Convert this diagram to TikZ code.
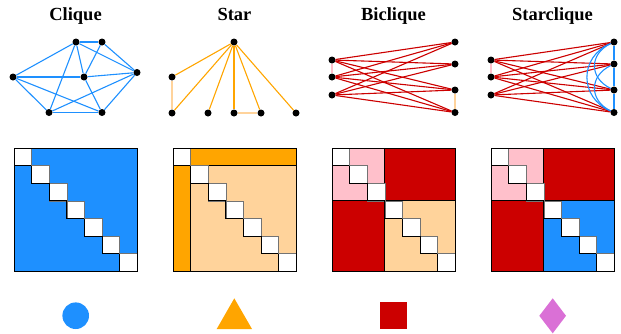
\documentclass[tikz,border=0pt]{standalone}
\usepackage{fontspec}
\setmainfont{Liberation Serif}

\definecolor{cliqueblue}{RGB}{30,144,255}
\definecolor{starorange}{RGB}{255,165,0}
\definecolor{lightorange}{RGB}{255,211,155}
\definecolor{lightpink}{RGB}{255,192,203}
\definecolor{bicliquered}{RGB}{204,0,0}
\definecolor{orchid}{RGB}{218,112,214}

\begin{document}
\begin{tikzpicture}[x=1pt,y=-1pt,
    dot/.style={circle,fill=black,inner sep=0pt,minimum size=7pt},
    title/.style={anchor=base,font=\fontsize{18.5}{20}\selectfont\bfseries},
    edge/.style={line width=1.1pt},
    diag/.style={fill=white,draw=black!55,line width=0.8pt},
    frame/.style={draw=black,line width=0.9pt}]
    \useasboundingbox (0,0) rectangle (621,333);
    %\draw[very thin,color=gray] (0,0) grid[step=20] (621,333);
    \pgfmathsetmacro{\bs}{123.5/7}

    % titles
    \node[title] (tclique) at (75.5,20) {Clique};
    \node[title] (tstar) at (234.5,20) {Star};
    \node[title] (tbiclique) at (393.5,20) {Biclique};
    \node[title] (tstarclique) at (552.5,20) {Starclique};

    % clique
    \node[dot] (c1) at (76,42) {};
    \node[dot] (c2) at (102,42) {};
    \node[dot] (c3) at (13,77) {};
    \node[dot] (c4) at (84,77) {};
    \node[dot] (c5) at (137,72.5) {};
    \node[dot] (c6) at (49,112.5) {};
    \node[dot] (c7) at (102,112.5) {};
    \foreach \a/\b in {c1/c2,c1/c3,c1/c4,c1/c5,c1/c6,c2/c4,c2/c5,c3/c4,
        c3/c6,c3/c7,c4/c5,c4/c7,c5/c6,c5/c7,c6/c7}
        \draw[edge,cliqueblue] (\a) -- (\b);

    % star
    \node[dot] (s0) at (234,42) {};
    \node[dot] (s1) at (172,77) {};
    \node[dot] (s2) at (172,113) {};
    \node[dot] (s3) at (208,113) {};
    \node[dot] (s4) at (234,113) {};
    \node[dot] (s5) at (261,113) {};
    \node[dot] (s6) at (296,113) {};
    \foreach \b in {s1,s2,s3,s4,s5,s6}
        \draw[edge,starorange] (s0) -- (\b);
    \draw[edge,lightorange] (s1) -- (s2);
    \draw[edge,lightorange] (s4) -- (s5);

    % biclique
    \node[dot] (b1) at (332,60) {};
    \node[dot] (b2) at (332,77) {};
    \node[dot] (b3) at (332,95) {};
    \node[dot] (b4) at (455,42) {};
    \node[dot] (b5) at (455,64) {};
    \node[dot] (b6) at (455,90) {};
    \node[dot] (b7) at (455,112.5) {};
    \foreach \a in {b1,b2,b3}
        \foreach \b in {b4,b5,b6,b7}
            \draw[edge,bicliquered] (\a) -- (\b);
    \draw[edge,lightpink] (b1) -- (b2);
    \draw[edge,lightorange] (b6) -- (b7);

    % starclique
    \node[dot] (q1) at (491,60) {};
    \node[dot] (q2) at (491,77) {};
    \node[dot] (q3) at (491,95) {};
    \node[dot] (q4) at (614,42) {};
    \node[dot] (q5) at (614,64) {};
    \node[dot] (q6) at (614,90) {};
    \node[dot] (q7) at (614,112.5) {};
    \foreach \a in {q1,q2,q3}
        \foreach \b in {q4,q5,q6,q7}
            \draw[edge,bicliquered] (\a) -- (\b);
    \draw[edge,lightpink] (q1) -- (q2);
    \foreach \a/\b in {q4/q5,q5/q6,q6/q7}
        \draw[edge,cliqueblue] (\a) -- (\b);
    \draw[edge,cliqueblue] (q4) .. controls +(-25,12) and +(-25,-12) .. (q6);
    \draw[edge,cliqueblue] (q5) .. controls +(-25,12) and +(-25,-12) .. (q7);
    \draw[edge,cliqueblue] (q4) .. controls +(-35,15) and +(-35,-15) .. (q7);

    % matrices
    \fill[cliqueblue] (14,148) rectangle +(123.5,123.5);
    \fill[lightorange] (173,148) rectangle +(123.5,123.5);
    \fill[starorange] (173+\bs,148) rectangle (296.5,148+\bs);
    \fill[starorange] (173,148+\bs) rectangle (173+\bs,271.5);
    \draw[frame] (173+\bs,148) -- (173+\bs,271.5);
    \draw[frame] (173,148+\bs) -- (296.5,148+\bs);
    \foreach \x/\c in {332/lightorange,491/cliqueblue} {
        \fill[lightpink] (\x,148) rectangle +(3*\bs,3*\bs);
        \fill[bicliquered] (\x+3*\bs,148) rectangle (\x+123.5,148+3*\bs);
        \fill[bicliquered] (\x,148+3*\bs) rectangle (\x+3*\bs,271.5);
        \fill[\c] (\x+3*\bs,148+3*\bs) rectangle (\x+123.5,271.5);
        \draw[frame] (\x+3*\bs,148) -- (\x+3*\bs,271.5);
        \draw[frame] (\x,148+3*\bs) -- (\x+123.5,148+3*\bs);
    }
    \foreach \x in {14,173,332,491} {
        \foreach \i in {0,...,6} {
            \draw[diag] (\x+\i*\bs,148+\i*\bs) rectangle +(\bs,\bs);
            \draw[frame] (\x+\i*\bs,148+\i*\bs) -- +(0,\bs) -- +(\bs,\bs);
        }
        \draw[frame] (\x,148) rectangle +(123.5,123.5);
    }

    % markers
    \fill[cliqueblue] (75.7,315.7) circle (13.3);
    \fill[starorange] (216.7,329) -- (234.3,298.3) -- (252,329) -- cycle;
    \fill[bicliquered] (380,302) rectangle (407,329);
    \fill[orchid] (552.7,298.3) -- (566,315.8) -- (552.7,333.3) -- (539.3,315.8) -- cycle;
\end{tikzpicture}
\end{document}
